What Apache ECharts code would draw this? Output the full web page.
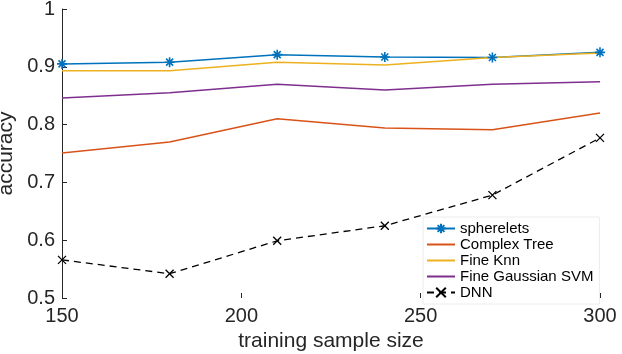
<!DOCTYPE html>
<html>
<head>
<meta charset="utf-8">
<script src="https://cdn.jsdelivr.net/npm/echarts@6/dist/echarts.min.js"></script>
<style>
  html, body { margin: 0; padding: 0; background: #fff; }
  #chart { width: 622px; height: 354px; }
</style>
</head>
<body>
<div id="chart"></div>
<script>
// training sample sizes
const sizes = [150, 180, 210, 240, 270, 300]

const spherelets = [0.905, 0.908, 0.921, 0.917, 0.916, 0.925]
const complexTree = [0.751, 0.770, 0.810, 0.794, 0.791, 0.820]
const fineKnn = [0.893, 0.893, 0.908, 0.903, 0.916, 0.924]
const fineSvm = [0.846, 0.855, 0.870, 0.860, 0.870, 0.874]
const dnn = [0.566, 0.542, 0.599, 0.625, 0.678, 0.777]

const xTicks = [150, 200, 250, 300]
const yTicks = [0.5, 0.6, 0.7, 0.8, 0.9, 1]

const textColor = '#262626'
const font = 'Liberation Sans, Arial, sans-serif'

const asterisk = 'path://M0,5L10,5M5,0L5,10M1.5,1.5L8.5,8.5M8.5,1.5L1.5,8.5'
const cross = 'path://M0,0L10,10M10,0L0,10'

const pairs = ys => sizes.map((x, i) => [x, ys[i]])

function plain(name, ys, color) {
  return {
    name,
    type: 'line',
    data: pairs(ys),
    showSymbol: false,
    symbol: 'circle',
    color,
    lineStyle: { width: 1.5, color }
  }
}

// plain lines: hide the symbol the legend draws in the middle of the icon
const noDot = name => ({ name, itemStyle: { opacity: 0 } })

const option = {
  animation: false,
  backgroundColor: '#fff',
  grid: { left: 62, right: 22, top: 9, bottom: 56, outerBoundsMode: 'none' },
  xAxis: {
    type: 'value',
    min: xTicks[0],
    max: xTicks[xTicks.length - 1],
    interval: 50,
    name: 'training sample size',
    nameLocation: 'middle',
    nameGap: 33,
    nameTextStyle: { color: textColor, fontSize: 21, fontFamily: font },
    axisLine: { show: false },
    axisTick: { show: true, inside: true, length: 5, lineStyle: { color: textColor } },
    axisLabel: { color: textColor, fontSize: 20, fontFamily: font, margin: 8 },
    splitLine: { show: false }
  },
  yAxis: {
    type: 'value',
    min: yTicks[0],
    max: yTicks[yTicks.length - 1],
    interval: 0.1,
    name: 'accuracy',
    nameLocation: 'middle',
    nameGap: 40,
    nameTextStyle: { color: textColor, fontSize: 21, fontFamily: font },
    axisLine: { show: true, lineStyle: { color: textColor, width: 1 } },
    axisTick: { show: true, inside: true, length: 5, lineStyle: { color: textColor } },
    axisLabel: { color: textColor, fontSize: 20, fontFamily: font, margin: 7 },
    splitLine: { show: false }
  },
  legend: {
    orient: 'vertical',
    left: 423,
    top: 217,
    padding: [4, 6, 4, 3],
    itemGap: 1,
    itemWidth: 28,
    itemHeight: 12,
    backgroundColor: '#fff',
    borderColor: '#ececec',
    borderWidth: 1,
    textStyle: { color: '#000', fontSize: 15, fontFamily: font, lineHeight: 15 },
    data: [
      'spherelets',
      noDot('Complex Tree'),
      noDot('Fine Knn'),
      noDot('Fine Gaussian SVM'),
      'DNN'
    ]
  },
  series: [
    {
      name: 'spherelets',
      type: 'line',
      data: pairs(spherelets),
      symbol: asterisk,
      symbolSize: 10,
      color: '#0072BD',
      itemStyle: { color: '#0072BD', borderColor: '#0072BD', borderWidth: 1.6 },
      lineStyle: { width: 1.5, color: '#0072BD' }
    },
    plain('Complex Tree', complexTree, '#D95319'),
    plain('Fine Knn', fineKnn, '#EDB120'),
    plain('Fine Gaussian SVM', fineSvm, '#7E2F8E'),
    {
      name: 'DNN',
      type: 'line',
      data: pairs(dnn),
      symbol: cross,
      symbolSize: 8,
      color: '#000',
      itemStyle: { color: '#000', borderColor: '#000', borderWidth: 1.3 },
      lineStyle: { width: 1.3, color: '#000', type: [7, 5] }
    }
  ]
}

const chart = echarts.init(document.getElementById('chart'))
chart.setOption(option)
</script>
</body>
</html>
